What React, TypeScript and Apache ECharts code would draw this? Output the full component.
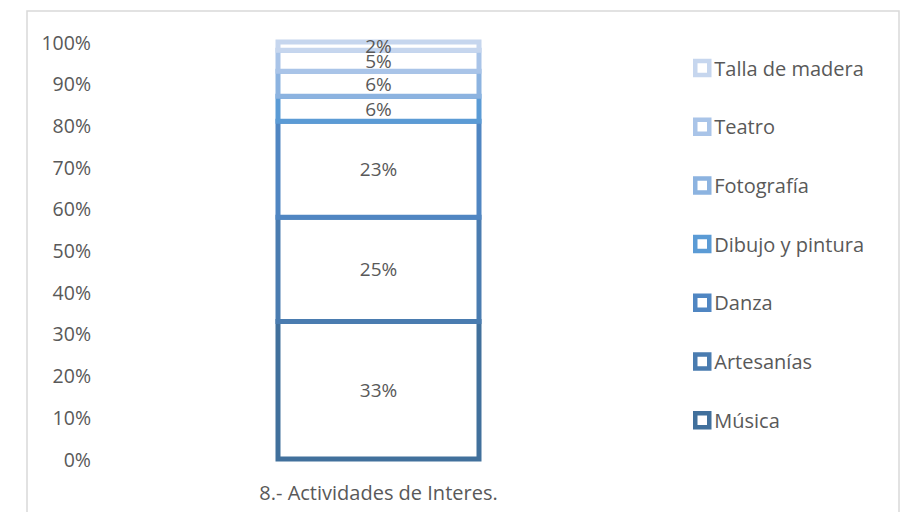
import React, { useEffect, useRef } from "react";
import * as echarts from "echarts";

const categories = ["8.- Actividades de Interes."];
const seriesNames = ["Música", "Artesanías", "Danza", "Dibujo y pintura", "Fotografía", "Teatro", "Talla de madera"];
const seriesValues = [33, 25, 23, 6, 6, 5, 2];
const seriesColors = ["#41709c", "#4a7cb0", "#5086c2", "#5b9bd5", "#8cb3e0", "#a9c4e8", "#c6d6ee"];
const yTicks = [0, 10, 20, 30, 40, 50, 60, 70, 80, 90, 100];

const FONT = "Open Sans";
const TEXT = "#595959";

export default function App() {
  const ref = useRef<HTMLDivElement>(null);
  useEffect(() => {
    if (!ref.current) return;
    const chart = echarts.init(ref.current, null, { renderer: "svg" });

    // segments for the outlined stacked bar (category, base, top, color index)
    const segs: number[][] = [];
    let acc = 0;
    seriesValues.forEach((v, i) => {
      segs.push([0, acc, acc + v, i]);
      acc += v;
    });

    const labelSeries = seriesNames.map((name, i) => ({
      name,
      type: "bar",
      stack: "total",
      barWidth: 201,
      z: 3,
      data: [seriesValues[i]],
      itemStyle: { color: "rgba(0,0,0,0)", borderWidth: 0 },
      label: {
        show: true,
        position: "inside",
        formatter: (p: any) => p.value + "%",
        color: TEXT,
        fontSize: 19,
        fontFamily: FONT,
      },
    }));

    const outline = {
      type: "custom",
      name: "outline",
      z: 2,
      data: segs,
      encode: { x: 0, y: [1, 2] },
      renderItem: (params: any, api: any) => {
        const c = api.value(0);
        const b = api.coord([c, api.value(1)]);
        const t = api.coord([c, api.value(2)]);
        const w = 201;
        return {
          type: "rect",
          shape: { x: b[0] - w / 2, y: t[1], width: w, height: b[1] - t[1] },
          style: { fill: "#ffffff", stroke: seriesColors[api.value(3)], lineWidth: 5 },
        };
      },
    };

    chart.setOption({
      animation: false,
      backgroundColor: "#ffffff",
      graphic: [
        {
          type: "rect",
          shape: { x: 27, y: 11, width: 872, height: 520 },
          style: { fill: "none", stroke: "#d9d9d9", lineWidth: 1.5 },
          silent: true,
        },
      ],
      grid: { left: 100, right: 246, top: 42, bottom: 53, containLabel: false },
      legend: {
        orient: "vertical",
        left: 693,
        top: 58,
        padding: 0,
        itemWidth: 14,
        itemHeight: 14,
        itemGap: 38.7,
        data: seriesNames
          .map((n, i) => ({
            name: n,
            icon: "rect",
            itemStyle: { color: "#ffffff", borderColor: seriesColors[i], borderWidth: 4.5 },
          }))
          .reverse(),
        textStyle: { color: TEXT, fontSize: 20, lineHeight: 20, fontFamily: FONT },
      },
      xAxis: {
        type: "category",
        data: categories,
        axisLine: { show: false },
        axisTick: { show: false },
        axisLabel: { color: TEXT, fontSize: 20, fontFamily: FONT, margin: 23 },
      },
      yAxis: {
        type: "value",
        min: yTicks[0],
        max: yTicks[yTicks.length - 1],
        interval: 10,
        splitLine: { show: false },
        axisLine: { show: false },
        axisTick: { show: false },
        axisLabel: {
          color: TEXT,
          fontSize: 19.5,
          fontFamily: FONT,
          margin: 9,
          formatter: (v: number) => v + "%",
        },
      },
      series: [outline, ...labelSeries],
    });
    return () => chart.dispose();
  }, []);
  return (
    <div
      ref={ref}
      style={{ position: "fixed", left: 0, top: 0, width: 903, height: 512 }}
    />
  );
}
